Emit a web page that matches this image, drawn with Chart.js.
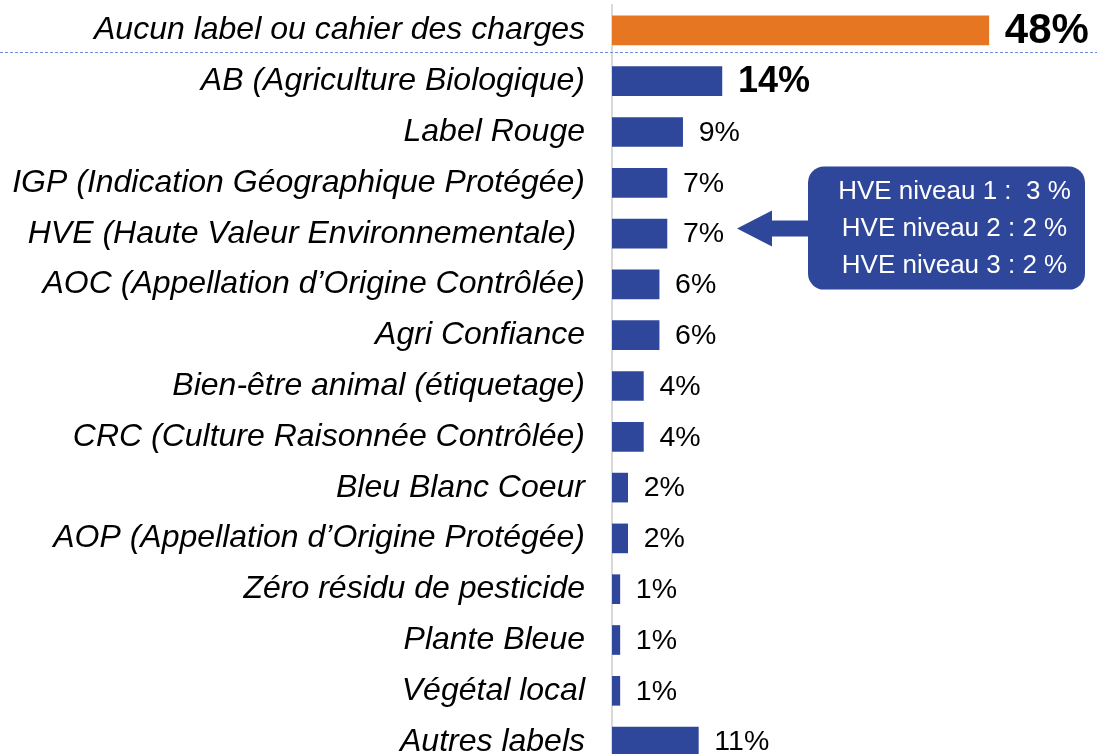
<!DOCTYPE html>
<html>
<head>
<meta charset="utf-8">
<script src="https://cdn.jsdelivr.net/npm/chart.js@4/dist/chart.umd.min.js"></script>
<style>
html, body { margin: 0; padding: 0; overflow: hidden; background: #fff; }
#wrap { width: 1097px; height: 772px; }
</style>
</head>
<body>
<div id="wrap"><canvas id="labelsChart"></canvas></div>
<script>
var labels = [
    'Aucun label ou cahier des charges',
    'AB (Agriculture Biologique)',
    'Label Rouge',
    'IGP (Indication Géographique Protégée)',
    'HVE (Haute Valeur Environnementale) ',
    'AOC (Appellation d’Origine Contrôlée)',
    'Agri Confiance',
    'Bien-être animal (étiquetage)',
    'CRC (Culture Raisonnée Contrôlée)',
    'Bleu Blanc Coeur',
    'AOP (Appellation d’Origine Protégée)',
    'Zéro résidu de pesticide',
    'Plante Bleue',
    'Végétal local',
    'Autres labels'
];
var values = [48, 14, 9, 7, 7, 6, 6, 4, 4, 2, 2, 1, 1, 1, 11];
var hveIndex = 4;
var hveDetail = ['HVE niveau 1 :  3 %', 'HVE niveau 2 : 2 %', 'HVE niveau 3 : 2 %'];

var ORANGE = '#E67621';
var BLUE = '#2F479B';
var FONT = '"Liberation Sans", Arial, sans-serif';

var barColors = values.map(function(v, i) { return i === 0 ? ORANGE : BLUE; });

// valeurs a droite des barres
var valueLabels = {
    id: 'valueLabels',
    afterDatasetsDraw: function(chart) {
        var ctx = chart.ctx;
        var meta = chart.getDatasetMeta(0);
        ctx.save();
        ctx.fillStyle = '#000';
        ctx.textAlign = 'left';
        ctx.textBaseline = 'middle';
        meta.data.forEach(function(bar, i) {
            if (i === 0) ctx.font = 'bold 42px ' + FONT;
            else if (i === 1) ctx.font = 'bold 36px ' + FONT;
            else ctx.font = '28.5px ' + FONT;
            ctx.fillText(values[i] + '%', bar.x + 16, bar.y + 1);
        });
        ctx.restore();
    }
};

// ligne pointillee + encadre HVE
var extras = {
    id: 'extras',
    afterDraw: function(chart) {
        var ctx = chart.ctx;
        var y = chart.scales.y;
        var c0 = y.getPixelForValue(0), c1 = y.getPixelForValue(1);
        var yd = (c0 + c1) / 2 - 4;
        ctx.save();
        ctx.strokeStyle = '#6E8CE0';
        ctx.lineWidth = 1;
        ctx.setLineDash([3, 2]);
        ctx.beginPath();
        ctx.moveTo(0, Math.round(yd) + 0.5);
        ctx.lineTo(chart.width, Math.round(yd) + 0.5);
        ctx.stroke();
        ctx.setLineDash([]);

        var yc = y.getPixelForValue(hveIndex);
        var left = 808, right = 1085, top = yc - 67, bottom = yc + 56, r = 16;
        ctx.fillStyle = BLUE;
        ctx.beginPath();
        ctx.roundRect(left, top, right - left, bottom - top, r);
        ctx.fill();

        // fleche
        var ay = yc - 5;
        ctx.beginPath();
        ctx.moveTo(left + 1, ay - 8);
        ctx.lineTo(772, ay - 8);
        ctx.lineTo(772, ay - 18);
        ctx.lineTo(737, ay);
        ctx.lineTo(772, ay + 18);
        ctx.lineTo(772, ay + 8);
        ctx.lineTo(left + 1, ay + 8);
        ctx.closePath();
        ctx.fill();

        ctx.fillStyle = '#fff';
        ctx.font = '26px ' + FONT;
        ctx.textAlign = 'center';
        ctx.textBaseline = 'middle';
        var cx = (left + right) / 2 + 8;
        hveDetail.forEach(function(t, i) {
            ctx.fillText(t, cx, top + 25 + i * 37);
        });
        ctx.restore();
    }
};

var ctx = document.getElementById('labelsChart').getContext('2d');
var myChart = new Chart(ctx, {
    type: 'bar',
    data: {
        labels: labels,
        datasets: [{
            data: values,
            backgroundColor: barColors,
            barThickness: 29
        }]
    },
    options: {
        indexAxis: 'y',
        responsive: true,
        maintainAspectRatio: false,
        animation: false,
        layout: { padding: { top: 5, right: 14, bottom: 5, left: 0 } },
        plugins: {
            legend: { display: false },
            tooltip: { enabled: false }
        },
        scales: {
            x: { display: false, min: 0, max: 60 },
            y: {
                afterFit: function(scale) {
                    scale.width = 612;
                    scale.paddingTop = 0;
                    scale.paddingBottom = 0;
                },
                grid: { display: false, drawTicks: false },
                border: { display: true, color: '#D9D9D9', width: 2 },
                ticks: {
                    padding: 27,
                    color: '#000',
                    font: { family: FONT, size: 32, style: 'italic' }
                }
            }
        }
    },
    plugins: [valueLabels, extras]
});
</script>
</body>
</html>
